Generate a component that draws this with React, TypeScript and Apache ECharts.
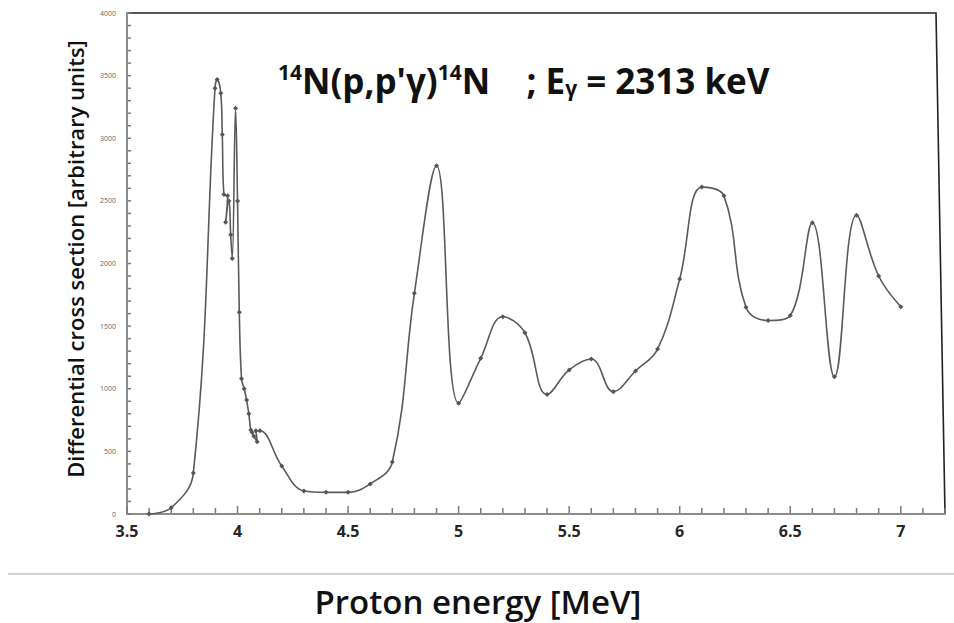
import React, { useEffect, useRef } from "react";
import * as echarts from "echarts";

const energy = [
  3.6, 3.7, 3.8, 3.898, 3.908, 3.924, 3.931, 3.9385, 3.955, 3.946, 3.961, 3.969, 3.976,
  3.991, 4.0, 4.008, 4.018, 4.03, 4.041, 4.051, 4.06, 4.066, 4.074, 4.089, 4.083, 4.101,
  4.2, 4.3, 4.4, 4.5, 4.6, 4.7, 4.8, 4.9, 5.0, 5.1, 5.2, 5.3, 5.4, 5.5, 5.6, 5.7, 5.8,
  5.9, 6.0, 6.1, 6.2, 6.3, 6.4, 6.5, 6.6, 6.7, 6.8, 6.9, 7.0,
];
const crossSection = [
  0, 50, 327, 3400, 3470, 3360, 3030, 2550, 2540, 2330, 2500, 2230, 2040,
  3240, 2500, 1610, 1080, 1000, 910, 800, 670, 650, 620, 577, 665, 665,
  383, 184, 173, 173, 240, 415, 1762, 2780, 884, 1243, 1575, 1447, 955, 1150, 1237, 977, 1142,
  1317, 1876, 2610, 2540, 1650, 1545, 1585, 2325, 1095, 2385, 1900, 1655,
];
const xTickLabels = ["3.5", "4", "4.5", "5", "5.5", "6", "6.5", "7"];
// axis tick positions (every 0.1 MeV on x, every 100 units on y)
const xTickValues = Array.from({ length: 38 }, (_, i) => Math.round((3.5 + i * 0.1) * 10) / 10);
const yTickValues = Array.from({ length: 41 }, (_, i) => i * 100);

export default function App() {
  const ref = useRef<HTMLDivElement>(null);
  useEffect(() => {
    if (!ref.current) return;
    const chart = echarts.init(ref.current, null, { renderer: "svg" });
    const data = energy.map((e, i) => [e, crossSection[i]]);
    chart.setOption({
      animation: false,
      grid: { left: 127, right: 9, top: 13, bottom: 109 },
      xAxis: {
        type: "value",
        min: 3.5,
        max: 7.2,
        interval: 0.5,
        axisLine: { show: true, onZero: false, lineStyle: { color: "#8c8c8c", width: 2 } },
        axisTick: { show: false },
        splitLine: { show: false },
        axisLabel: {
          margin: 9,
          fontSize: 16,
          fontWeight: "bold",
          fontFamily: "Open Sans",
          color: "#262626",
          showMaxLabel: false,
          formatter: (v: number) => {
            const s = String(Math.round(v * 2) / 2);
            return xTickLabels.indexOf(s) >= 0 ? s : "";
          },
        },
      },
      yAxis: {
        type: "value",
        min: 0,
        max: 4000,
        interval: 500,
        axisLine: { show: true, onZero: false, lineStyle: { color: "#8c8c8c", width: 2 } },
        axisTick: { show: false },
        splitLine: { show: false },
        axisLabel: {
          fontSize: 7,
          color: "#666",
          margin: 11,
          fontFamily: "Open Sans",
          formatter: (v: number) => String(v),
        },
      },
      series: [
        {
          type: "custom",
          silent: true,
          data: xTickValues.map((v) => [v, 0]),
          encode: { x: 0, y: 1 },
          renderItem: (params: any, api: any) => {
            const v = api.value(0);
            const p = api.coord([v, 0]);
            const major = Math.abs(v * 2 - Math.round(v * 2)) < 1e-6;
            return {
              type: "line",
              shape: { x1: p[0], y1: p[1] - 1, x2: p[0], y2: p[1] - (major ? 8 : 6) },
              style: { stroke: "#7a7a7a", lineWidth: 1.5 },
            };
          },
        },
        {
          type: "custom",
          silent: true,
          data: yTickValues.map((v) => [3.5, v]),
          encode: { x: 0, y: 1 },
          renderItem: (params: any, api: any) => {
            const p = api.coord([api.value(0), api.value(1)]);
            return {
              type: "line",
              shape: { x1: p[0] + 1, y1: p[1], x2: p[0] + 4, y2: p[1] },
              style: { stroke: "#7a7a7a", lineWidth: 1.5 },
            };
          },
        },
        {
          type: "line",
          data,
          smooth: 0.4,
          symbol: "diamond",
          symbolSize: 5,
          itemStyle: { color: "#555" },
          lineStyle: { color: "#5a5a5a", width: 1.6 },
          z: 3,
        },
      ],
      graphic: [
        {
          type: "polyline",
          shape: { points: [[127, 13], [936, 13], [945, 514]] },
          style: { stroke: "#222", lineWidth: 1.6, fill: null },
        },
        {
          type: "line",
          shape: { x1: 8, y1: 574, x2: 954, y2: 574 },
          style: { stroke: "#d0d0d0", lineWidth: 2 },
        },
        {
          type: "text",
          x: 478,
          y: 601,
          style: {
            text: "Proton energy [MeV]",
            fontSize: 33,
            fontFamily: "Open Sans",
            fontWeight: 600,
            fill: "#111",
            align: "center",
            verticalAlign: "middle",
          },
        },
        {
          type: "text",
          x: 75,
          y: 259,
          rotation: Math.PI / 2,
          style: {
            text: "Differential cross section [arbitrary units]",
            fontSize: 22,
            fontFamily: "Open Sans",
            fontWeight: 600,
            fill: "#111",
            align: "center",
            verticalAlign: "middle",
          },
        },
        {
          type: "text",
          x: 278,
          y: 80,
          style: {
            text: "{sup|14}{b|N(p,p'γ)}{sup|14}{b|N    ; E}{sub|γ}{b| = 2313 keV}",
            fill: "#111",
            align: "left",
            verticalAlign: "middle",
            rich: {
              b: { fontSize: 35, fontWeight: "bold", fontFamily: "Open Sans", fill: "#111" },
              sup: { fontSize: 21, fontWeight: "bold", fontFamily: "Open Sans", fill: "#111", padding: [0, 0, 16, 0] },
              sub: { fontSize: 21, fontWeight: "bold", fontFamily: "Open Sans", fill: "#111", padding: [16, 0, 0, 0] },
            },
          },
        },
      ],
    });
    return () => chart.dispose();
  }, []);
  return (
    <div
      ref={ref}
      style={{ position: "fixed", left: 0, top: 0, width: 954, height: 623, background: "#fff" }}
    />
  );
}
